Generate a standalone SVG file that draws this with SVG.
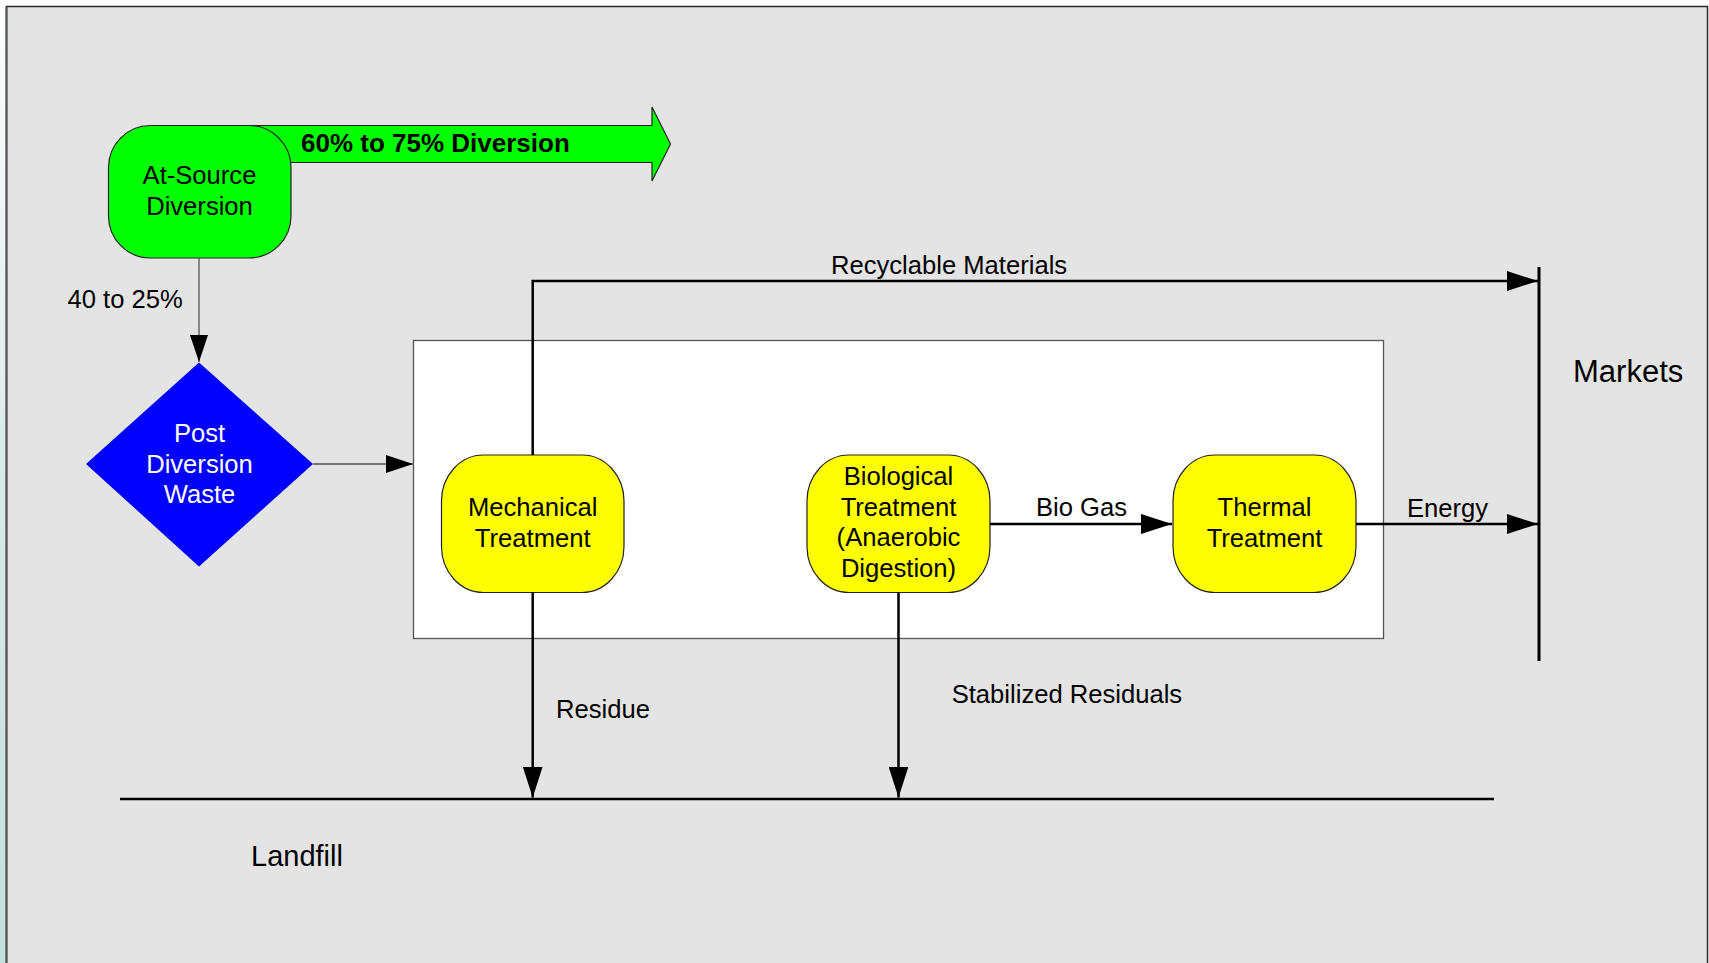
<svg xmlns="http://www.w3.org/2000/svg" width="1709" height="963" viewBox="0 0 1709 963">
<defs>
<linearGradient id="strip" x1="0" y1="0" x2="0" y2="1">
<stop offset="0" stop-color="#ffffff"/>
<stop offset="0.45" stop-color="#dcecea"/>
<stop offset="1" stop-color="#c4dedc"/>
</linearGradient>
<marker id="ahThin" markerUnits="userSpaceOnUse" markerWidth="27" markerHeight="18" refX="27" refY="9" orient="auto">
<path d="M0,0 L27,9 L0,18 Z" fill="#000"/>
</marker>
<marker id="ahThick" markerUnits="userSpaceOnUse" markerWidth="31" markerHeight="20" refX="31" refY="10" orient="auto">
<path d="M0,0 L31,10 L0,20 Z" fill="#000"/>
</marker>
</defs>
<style>
text{font-family:"Liberation Sans",Arial,sans-serif;font-size:25.6px;fill:#000}
.c{text-anchor:middle}
.w{fill:#fff}
.node{stroke:#222;stroke-width:1.2}
.thin{fill:none;stroke:#555;stroke-width:1.3}
.thick{fill:none;stroke:#000;stroke-width:2.5}
</style>
<rect x="0" y="0" width="7" height="963" fill="url(#strip)"/>
<rect x="6.5" y="6.5" width="1701" height="970" fill="#e4e4e4" stroke="#2a2a2a" stroke-width="1.5"/>
<line x1="6.5" y1="7" x2="6.5" y2="963" stroke="#555" stroke-width="2"/>

<g id="container">
<rect x="413.5" y="340.5" width="970" height="298" fill="#fff" stroke="#555" stroke-width="1.3"/>
</g>

<g id="diversion-arrow">
<polygon points="200,125.5 652,125.5 652,107 670.5,144 652,181 652,162.5 200,162.5" fill="#00ff00" stroke="#222" stroke-width="1.2"/>
<text x="301" y="152" font-weight="bold" style="font-size:26px">60% to 75% Diversion</text>
</g>

<g id="at-source">
<rect x="108.5" y="125.5" width="182.5" height="132.5" rx="42" ry="42" fill="#00ff00" class="node"/>
<text class="c" x="199.5" y="184">At-Source</text>
<text class="c" x="199.5" y="215">Diversion</text>
</g>

<g id="post-diversion">
<polygon points="199,362.5 313,464 199,566.5 86,464" fill="#0000ff"/>
<text class="c w" x="199.5" y="442">Post</text>
<text class="c w" x="199.5" y="472.5">Diversion</text>
<text class="c w" x="199.5" y="503">Waste</text>
</g>

<g id="mechanical">
<rect x="441.5" y="455" width="182.5" height="137.5" rx="42" ry="46" fill="#ffff00" class="node"/>
<text class="c" x="532.7" y="516">Mechanical</text>
<text class="c" x="532.7" y="546.7">Treatment</text>
</g>

<g id="biological">
<rect x="807" y="455" width="183" height="137.5" rx="42" ry="46" fill="#ffff00" class="node"/>
<text class="c" x="898.5" y="485">Biological</text>
<text class="c" x="898.5" y="515.5">Treatment</text>
<text class="c" x="898.5" y="546">(Anaerobic</text>
<text class="c" x="898.5" y="576.5">Digestion)</text>
</g>

<g id="thermal">
<rect x="1173" y="455" width="183" height="137.5" rx="42" ry="46" fill="#ffff00" class="node"/>
<text class="c" x="1264.5" y="516">Thermal</text>
<text class="c" x="1264.5" y="546.7">Treatment</text>
</g>

<g id="markets">
<line x1="1539" y1="267" x2="1539" y2="661" stroke="#000" stroke-width="3"/>
<text x="1573" y="382" style="font-size:31px">Markets</text>
</g>

<g id="landfill">
<line x1="120" y1="799" x2="1494" y2="799" stroke="#000" stroke-width="2.5"/>
<text x="251" y="866" style="font-size:29px">Landfill</text>
</g>

<g id="connectors">
<line class="thin" x1="199" y1="258" x2="199" y2="362" marker-end="url(#ahThin)"/>
<line class="thin" x1="313" y1="464" x2="413" y2="464" marker-end="url(#ahThin)"/>
<polyline class="thick" points="532.7,455 532.7,281 1538,281" marker-end="url(#ahThick)"/>
<line class="thick" x1="532.7" y1="592.5" x2="532.7" y2="797.5" marker-end="url(#ahThick)"/>
<line class="thick" x1="898.5" y1="592.5" x2="898.5" y2="797.5" marker-end="url(#ahThick)"/>
<line class="thick" x1="990" y1="524" x2="1172" y2="524" marker-end="url(#ahThick)"/>
<line class="thick" x1="1356" y1="524" x2="1538" y2="524" marker-end="url(#ahThick)"/>
<text x="67.5" y="308">40 to 25%</text>
<text x="831" y="273.5">Recyclable Materials</text>
<text x="1036" y="516">Bio Gas</text>
<text x="1407" y="517">Energy</text>
<text x="556" y="718">Residue</text>
<text x="951.7" y="703">Stabilized Residuals</text>
</g>
</svg>
